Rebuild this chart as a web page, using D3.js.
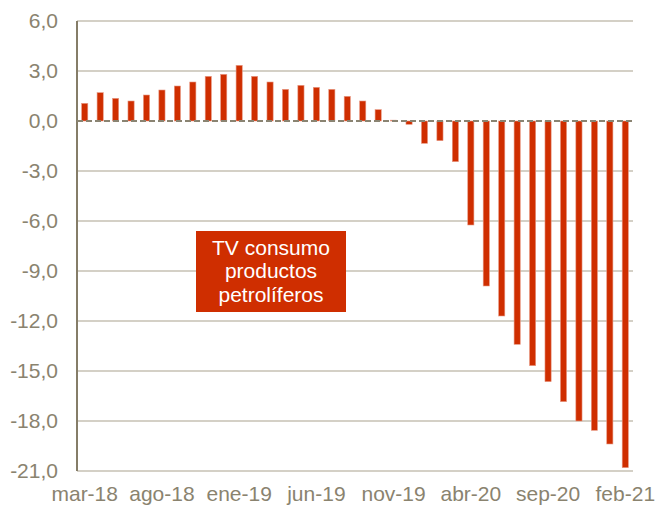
<!DOCTYPE html>
<html><head><meta charset="utf-8">
<script src="https://cdn.jsdelivr.net/npm/d3@7"></script>
<style>html,body{margin:0;padding:0;background:#fff;}svg{display:block;}</style>
</head><body>
<svg id="c" width="655" height="506"></svg>
<script>
const months = ["mar-18","abr-18","may-18","jun-18","jul-18","ago-18","sep-18","oct-18","nov-18","dic-18",
"ene-19","feb-19","mar-19","abr-19","may-19","jun-19","jul-19","ago-19","sep-19","oct-19",
"nov-19","dic-19","ene-20","feb-20","mar-20","abr-20","may-20","jun-20","jul-20","ago-20",
"sep-20","oct-20","nov-20","dic-20","ene-21","feb-21"];
const values = [1.06,1.70,1.36,1.20,1.56,1.86,2.10,2.34,2.68,2.80,
3.34,2.68,2.34,1.90,2.14,2.02,1.90,1.48,1.20,0.68,
0.05,-0.20,-1.34,-1.18,-2.44,-6.24,-9.90,-11.70,-13.40,-14.68,
-15.64,-16.84,-18.00,-18.56,-19.38,-20.80];
const xTickLabels = ["mar-18","ago-18","ene-19","jun-19","nov-19","abr-20","sep-20","feb-21"];
const yTicks = [6,3,0,-3,-6,-9,-12,-15,-18,-21];
const boxLines = ["TV consumo","productos","petrolíferos"];

const svg = d3.select("#c");
const L = 77, R = 633, T = 21, B = 471;
const x = d3.scaleBand().domain(months).range([L, R]).paddingInner(0.6).paddingOuter(0.3);
const y = d3.scaleLinear().domain([-21, 6]).range([B, T]);
const font = "'Liberation Sans', Arial, sans-serif";
const txtCol = "#8a836f";
const fs = 21;

// gridlines
svg.append("g").selectAll("line").data(yTicks.filter(d => d !== 0)).join("line")
  .attr("x1", L).attr("x2", R)
  .attr("y1", d => y(d)).attr("y2", d => y(d))
  .attr("stroke", "#c6c1b3").attr("stroke-width", 1.6);

// y axis
const yAxis = d3.axisLeft(y).tickValues(yTicks).tickSize(0).tickPadding(19)
  .tickFormat(d => d3.format(".1f")(d).replace(".", ",").replace("−", "-"));
const gy = svg.append("g").attr("transform", `translate(${L},0)`).call(yAxis);
gy.select(".domain").remove();
gy.selectAll("text").attr("font-family", font).attr("font-size", fs).attr("fill", txtCol);
svg.append("line").attr("x1", L).attr("x2", L).attr("y1", y(6)).attr("y2", y(-21))
  .attr("stroke", "#857d68").attr("stroke-width", 2);

// bars
svg.append("g").selectAll("rect").data(values).join("rect")
  .attr("x", (d, i) => x(months[i]))
  .attr("width", x.bandwidth())
  .attr("y", d => y(Math.max(0, d)))
  .attr("height", d => Math.abs(y(d) - y(0)))
  .attr("fill", "#cf2e00")
  .attr("stroke", "#e89a85").attr("stroke-width", 0.6);

// zero dashed line
svg.append("line").attr("x1", L).attr("x2", R).attr("y1", y(0)).attr("y2", y(0))
  .attr("stroke", "#8a8472").attr("stroke-width", 2).attr("stroke-dasharray", "6,3");

// x axis labels
const xAxis = d3.axisBottom(x).tickValues(xTickLabels).tickSize(0).tickPadding(15);
const gx = svg.append("g").attr("transform", `translate(0,${B})`).call(xAxis);
gx.select(".domain").remove();
gx.selectAll("text").attr("font-family", font).attr("font-size", fs).attr("fill", txtCol);

// label box
const bx = 196, by = 231, bw = 150, bh = 81;
svg.append("rect").attr("x", bx).attr("y", by).attr("width", bw).attr("height", bh).attr("fill", "#cf2e00");
svg.append("g").selectAll("text").data(boxLines).join("text")
  .attr("x", bx + bw / 2).attr("y", (d, i) => 249 + i * 23.5)
  .attr("text-anchor", "middle").attr("dominant-baseline", "middle")
  .attr("font-family", font).attr("font-size", fs).attr("fill", "#fff")
  .text(d => d);
</script>
</body></html>
